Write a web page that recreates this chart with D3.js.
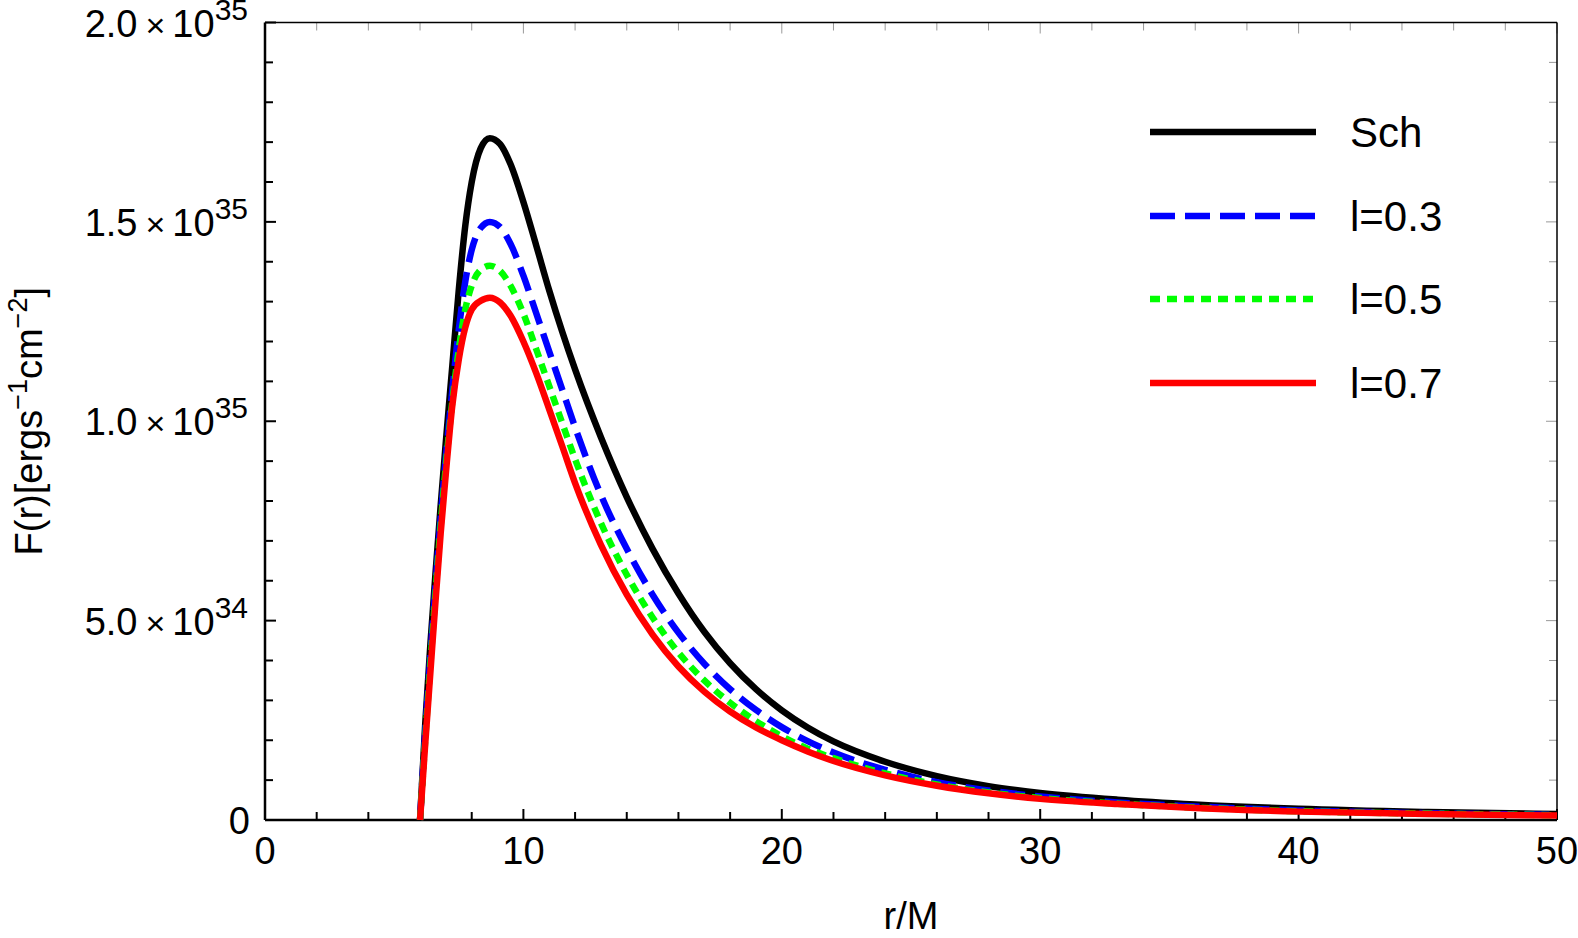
<!DOCTYPE html>
<meta charset="utf-8">
<title>F(r) flux</title>
<head>
    <script src="https://d3js.org/d3.v7.min.js"></script>
</head>
<body style="margin: 0px; background: #fff">
<script>

    // r/M sample points
    var rValues = [6, 6.2, 6.4, 6.6, 6.8, 7, 7.25, 7.5, 7.75, 8, 8.35, 8.7, 9.1, 9.5, 10, 10.5, 11, 11.5, 12,
        13, 14, 15, 16, 17, 18, 19, 20, 21, 22, 24, 26, 28, 30, 33, 36, 40, 45, 50];

    // flux in units of 1e35 erg s^-1 cm^-2
    var fluxSch = [0, 0.24, 0.44, 0.62, 0.79, 0.95, 1.14, 1.33, 1.49, 1.6, 1.685, 1.71, 1.695, 1.645, 1.55, 1.44, 1.328, 1.225, 1.13,
        0.96, 0.81, 0.68, 0.568, 0.472, 0.393, 0.328, 0.275, 0.232, 0.197, 0.146, 0.11, 0.085, 0.068, 0.051, 0.039, 0.028, 0.02, 0.015];
    var fluxL03 = [0, 0.22, 0.41, 0.59, 0.76, 0.91, 1.08, 1.23, 1.35, 1.43, 1.485, 1.5, 1.487, 1.445, 1.365, 1.27, 1.175, 1.08, 0.985,
        0.815, 0.68, 0.565, 0.47, 0.392, 0.328, 0.276, 0.233, 0.198, 0.169, 0.126, 0.095, 0.074, 0.059, 0.044, 0.034, 0.024, 0.017, 0.013];
    var fluxL05 = [0, 0.2, 0.39, 0.57, 0.74, 0.89, 1.05, 1.18, 1.28, 1.34, 1.38, 1.39, 1.377, 1.34, 1.27, 1.18, 1.088, 0.996, 0.905,
        0.745, 0.615, 0.508, 0.42, 0.35, 0.294, 0.248, 0.21, 0.179, 0.155, 0.117, 0.089, 0.069, 0.055, 0.041, 0.031, 0.022, 0.016, 0.012];
    var fluxL07 = [0, 0.19, 0.37, 0.55, 0.72, 0.87, 1.04, 1.155, 1.235, 1.28, 1.302, 1.31, 1.298, 1.265, 1.2, 1.12, 1.03, 0.938, 0.845,
        0.69, 0.565, 0.465, 0.385, 0.322, 0.272, 0.232, 0.2, 0.172, 0.148, 0.112, 0.086, 0.067, 0.053, 0.04, 0.03, 0.021, 0.015, 0.011];

    var seriesNames = ["Sch", "l=0.3", "l=0.5", "l=0.7"];
    var seriesColors = ["#000000", "#0000ff", "#00ff00", "#ff0000"];
    var seriesDash = [null, "25,10", "10,7", null];
    var seriesData = [fluxSch, fluxL03, fluxL05, fluxL07];

    var xMajor = [0, 10, 20, 30, 40, 50];
    var yMajor = [0, 0.5, 1.0, 1.5, 2.0];
    var yMant = ["0", "5.0", "1.0", "1.5", "2.0"];
    var yExp = ["", "34", "35", "35", "35"];

    var width = 1578,
            height = 938,
            pLeft = 265, pRight = 1557, pTop = 22.5, pBottom = 820;

    var font = "Liberation Sans, Arial, sans-serif";

    var svg = d3.select("body").append("svg")
            .attr("width", width)
            .attr("height", height)
            .style("display", "block");

    var x = d3.scaleLinear().domain([0, 50]).range([pLeft, pRight]);
    var y = d3.scaleLinear().domain([0, 2]).range([pBottom, pTop]);

    // ticks: bottom/left thick black, top/right thin grey
    var xMinor = d3.range(0, 50.01, 2);
    var yMinor = d3.range(0, 2.001, 0.1).map(function (d) { return +d.toFixed(1); });

    function isMajorX(d) { return Math.abs(d % 10) < 1e-9; }
    function isMajorY(d) { return Math.abs((d * 10) % 5) < 1e-9; }

    svg.append("g").selectAll("line").data(xMinor).enter().append("line")
            .attr("x1", function (d) { return x(d); }).attr("x2", function (d) { return x(d); })
            .attr("y1", pBottom).attr("y2", function (d) { return pBottom - (isMajorX(d) ? 11 : 8); })
            .attr("stroke", "#000").attr("stroke-width", 2);
    svg.append("g").selectAll("line").data(xMinor).enter().append("line")
            .attr("x1", function (d) { return x(d); }).attr("x2", function (d) { return x(d); })
            .attr("y1", pTop).attr("y2", function (d) { return pTop + (isMajorX(d) ? 11 : 8); })
            .attr("stroke", "#999").attr("stroke-width", 1);
    svg.append("g").selectAll("line").data(yMinor).enter().append("line")
            .attr("y1", function (d) { return y(d); }).attr("y2", function (d) { return y(d); })
            .attr("x1", pLeft).attr("x2", function (d) { return pLeft + (isMajorY(d) ? 11 : 8); })
            .attr("stroke", "#000").attr("stroke-width", 2);
    svg.append("g").selectAll("line").data(yMinor).enter().append("line")
            .attr("y1", function (d) { return y(d); }).attr("y2", function (d) { return y(d); })
            .attr("x1", pRight).attr("x2", function (d) { return pRight - (isMajorY(d) ? 11 : 8); })
            .attr("stroke", "#999").attr("stroke-width", 1);

    // frame
    svg.append("line").attr("x1", pLeft).attr("x2", pRight).attr("y1", pBottom).attr("y2", pBottom)
            .attr("stroke", "#000").attr("stroke-width", 2.5);
    svg.append("line").attr("x1", pLeft).attr("x2", pLeft).attr("y1", pTop).attr("y2", pBottom)
            .attr("stroke", "#000").attr("stroke-width", 2.5);
    svg.append("line").attr("x1", pLeft).attr("x2", pRight).attr("y1", pTop).attr("y2", pTop)
            .attr("stroke", "#000").attr("stroke-width", 1.5);
    svg.append("line").attr("x1", pRight).attr("x2", pRight).attr("y1", pTop).attr("y2", pBottom)
            .attr("stroke", "#000").attr("stroke-width", 1.5);

    // x tick labels
    svg.append("g").selectAll("text").data(xMajor).enter().append("text")
            .attr("x", function (d) { return x(d); })
            .attr("y", 864)
            .attr("text-anchor", "middle")
            .style("font-family", font).style("font-size", "38px")
            .text(function (d) { return d; });

    // y tick labels with exponents
    yMajor.forEach(function (d, i) {
        var t = svg.append("text")
                .attr("x", 248)
                .attr("y", y(d) + 14)
                .attr("text-anchor", "end")
                .style("font-family", font).style("font-size", "38px");
        if (yExp[i] === "") {
            t.attr("x", 250).text(yMant[i]);
            return;
        }
        t.append("tspan").text(yMant[i]);
        t.append("tspan").attr("dx", 8).style("font-size", "34px").text("\u00d7");
        t.append("tspan").attr("dx", 7).text("10");
        t.append("tspan").attr("dy", -17).style("font-size", "30px").text(yExp[i]);
    });

    // axis titles
    svg.append("text")
            .attr("x", (pLeft + pRight) / 2)
            .attr("y", 929)
            .attr("text-anchor", "middle")
            .style("font-family", font).style("font-size", "38px")
            .text("r/M");

    var yl = svg.append("text")
            .attr("transform", "translate(42," + ((pTop + pBottom) / 2) + ") rotate(-90)")
            .attr("text-anchor", "middle")
            .style("font-family", font).style("font-size", "38px");
    yl.append("tspan").text("F(r)[ergs");
    yl.append("tspan").attr("dy", -15).style("font-size", "27px").text("\u22121");
    yl.append("tspan").attr("dy", 15).text("cm");
    yl.append("tspan").attr("dy", -15).style("font-size", "27px").text("\u22122");
    yl.append("tspan").attr("dy", 15).text("]");

    // curves
    var line = d3.line()
            .x(function (d) { return x(d[0]); })
            .y(function (d) { return y(d[1]); })
            .curve(d3.curveMonotoneX);

    seriesData.forEach(function (vals, i) {
        var pts = rValues.map(function (r, j) { return [r, vals[j]]; });
        svg.append("path")
                .datum(pts)
                .attr("d", line)
                .attr("fill", "none")
                .attr("stroke", seriesColors[i])
                .attr("stroke-width", 6.5)
                .attr("stroke-dasharray", seriesDash[i]);
    });

    // legend
    var legendY = [132, 216, 299, 383];
    seriesNames.forEach(function (name, i) {
        svg.append("line")
                .attr("x1", 1150).attr("x2", 1316)
                .attr("y1", legendY[i]).attr("y2", legendY[i])
                .attr("stroke", seriesColors[i])
                .attr("stroke-width", 6.5)
                .attr("stroke-dasharray", seriesDash[i]);
        svg.append("text")
                .attr("x", 1350)
                .attr("y", legendY[i] + 15)
                .style("font-family", font).style("font-size", "42px")
                .text(name);
    });

</script>
</body>
